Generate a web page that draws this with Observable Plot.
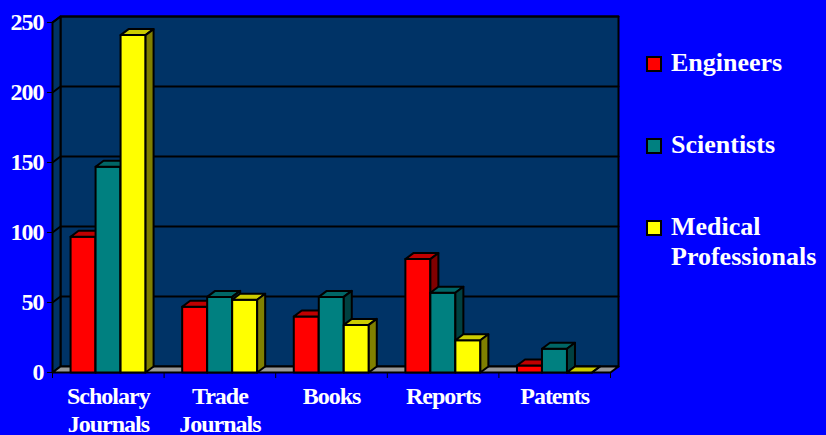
<!DOCTYPE html>
<html><head><meta charset="utf-8">
<script src="https://cdn.jsdelivr.net/npm/d3@7"></script>
<script src="https://cdn.jsdelivr.net/npm/@observablehq/plot@0.6"></script>
<style>
html,body{margin:0;padding:0;background:#0000ff;}
#wrap{position:relative;width:826px;height:435px;background:#0000ff;overflow:hidden;}
#wrap svg text{fill:#fff;letter-spacing:-1px;}
.lg{position:absolute;font:bold 26px 'Liberation Serif','Times New Roman',serif;color:#fff;line-height:30px;white-space:pre;}
.sw{position:absolute;width:12px;height:12px;border:2px solid #000;}
</style></head><body><div id="wrap"></div>
<script>
const categories = ["Scholary\nJournals", "Trade\nJournals", "Books", "Reports", "Patents"];
const series = ["Engineers", "Scientists", "Medical\nProfessionals"];
const engineers = [97, 47, 40, 81, 5];
const scientists = [147, 54, 54, 57, 17];
const medical = [241, 52, 34, 23, 0];
const yTicks = [0, 50, 100, 150, 200, 250];

const frontColors = ["#ff0000", "#008080", "#ffff00"];
const topColors = ["#c00000", "#006666", "#cccc00"];
const sideColors = ["#800000", "#004040", "#808000"];

const values = [engineers, scientists, medical];
const yMax = 250;
const nCat = categories.length;
// 3D depth and bar layout in data units
const DX = 8 / 111.6, DY = 6 / 1.4, GAP = 0.162, BW = 0.224;

function addPoly(arr, id, fill, pts) {
  pts.forEach(([x, y]) => arr.push({id, fill, x, y}));
  arr.push({id, fill, x: pts[0][0], y: pts[0][1]});
}

const walls = [];
addPoly(walls, "back", "#003366", [[DX, DY], [DX, yMax + DY], [nCat + DX, yMax + DY], [nCat + DX, DY]]);
addPoly(walls, "left", "#003366", [[0, 0], [0, yMax], [DX, yMax + DY], [DX, DY]]);
addPoly(walls, "floor", "#999999", [[0, 0], [nCat, 0], [nCat + DX, DY], [DX, DY]]);

const grid = [];
yTicks.filter(v => v > 0).forEach(v => {
  [[0, v], [DX, v + DY], [nCat + DX, v + DY]].forEach(([x, y]) => grid.push({id: v, x, y}));
});

const bars = [];
categories.forEach((c, i) => {
  series.forEach((s, j) => {
    const v = values[j][i];
    const x0 = i + GAP + j * BW, x1 = x0 + BW;
    const id = i + "-" + j;
    addPoly(bars, id + "f", frontColors[j], [[x0, 0], [x0, v], [x1, v], [x1, 0]]);
    addPoly(bars, id + "t", topColors[j], [[x0, v], [x0 + DX, v + DY], [x1 + DX, v + DY], [x1, v]]);
    addPoly(bars, id + "s", sideColors[j], [[x1, 0], [x1, v], [x1 + DX, v + DY], [x1 + DX, DY]]);
  });
});

const catData = categories.map((c, i) => ({x: i + 0.5, label: c}));

const chart = Plot.plot({
  width: 826, height: 435,
  marginLeft: 52, marginRight: 216, marginTop: 22, marginBottom: 63,
  style: {background: "#0000ff", color: "#000", fontFamily: "'Liberation Serif','Times New Roman',serif", fontSize: "24px", fontWeight: "bold", overflow: "visible"},
  x: {type: "linear", domain: [0, nCat], ticks: d3.range(nCat + 1), tickFormat: () => "", tickSize: 6, label: null},
  y: {domain: [0, yMax], ticks: yTicks, tickSize: 5, tickPadding: 4, label: null},
  color: {type: "identity"},
  marks: [
    Plot.line(walls, {x: "x", y: "y", z: "id", fill: "fill", stroke: "#000", strokeWidth: 2}),
    Plot.line(grid, {x: "x", y: "y", z: "id", stroke: "#000", strokeWidth: 2}),
    Plot.line(bars, {x: "x", y: "y", z: "id", fill: "fill", stroke: "#000", strokeWidth: 2}),
    Plot.text(catData, {x: "x", y: () => 0, text: "label", dy: 11, lineAnchor: "top", lineHeight: 1.18, fill: "#fff", fontSize: 24, fontWeight: "bold"})
  ]
});
const wrap = document.getElementById("wrap");
wrap.appendChild(chart);

const legendTops = [48, 130, 212];
series.forEach((s, j) => {
  const sw = document.createElement("div");
  sw.className = "sw";
  sw.style.left = "646px";
  sw.style.top = (legendTops[j] + 8) + "px";
  sw.style.background = frontColors[j];
  wrap.appendChild(sw);
  const t = document.createElement("div");
  t.className = "lg";
  t.style.left = "671px";
  t.style.top = legendTops[j] + "px";
  t.textContent = s;
  wrap.appendChild(t);
});
</script></body></html>
